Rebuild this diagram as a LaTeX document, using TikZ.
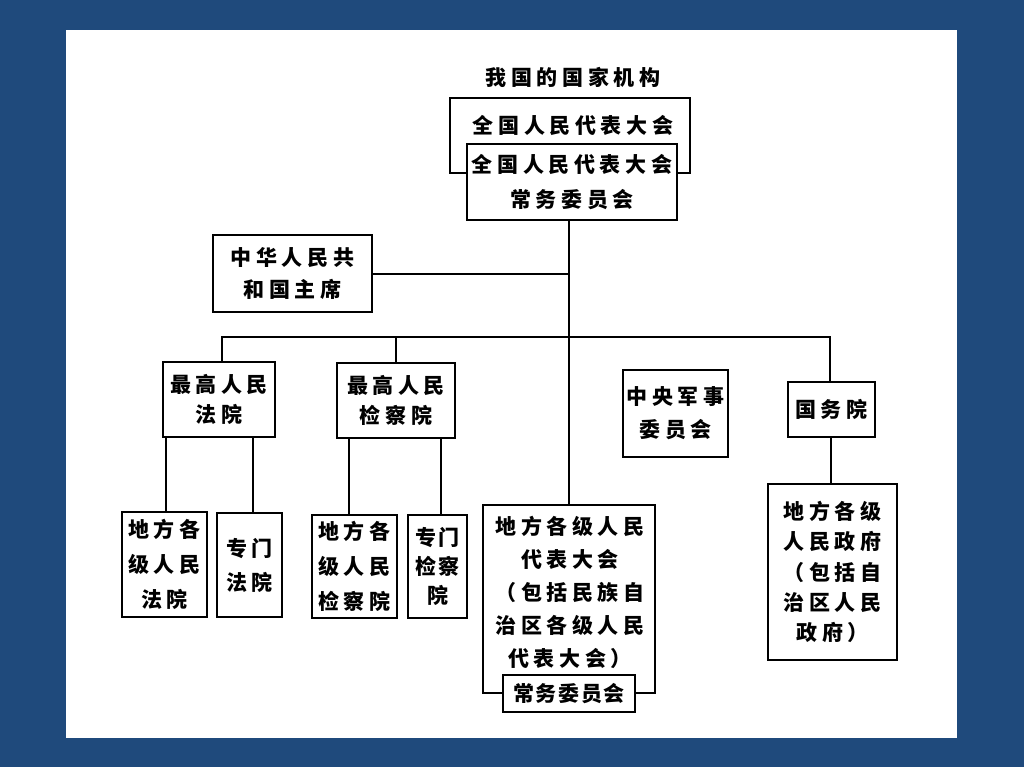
\documentclass[tikz,border=0pt]{standalone}
\usepackage{fontspec}
\newfontfamily\cjk[LetterSpace=22]{Noto Sans CJK SC}
\definecolor{bgblue}{HTML}{1F4A7C}
\begin{document}
\begin{tikzpicture}[x=1pt,y=-1pt,
  box/.style={draw, line width=2pt, inner sep=0pt, align=center, fill=white,
    font={\cjk\bfseries\fontsize{21}{33}\selectfont}},
  txt/.style={inner sep=0pt, align=center, font={\cjk\bfseries\fontsize{21}{33}\selectfont}},
  link/.style={line width=2pt}]
\useasboundingbox (0,0) rectangle (1024,767);
\fill[bgblue] (0,0) rectangle (1024,767);
\fill[white] (66,30) rectangle (957,738);

% title
\node[txt] (title) at (573,77) {我国的国家机构};

% NPC and standing committee
\node[box, minimum width=240, minimum height=75] (npc) at (570,135.5) {};
\node[txt] (npct) at (573,125) {全国人民代表大会};
\node[box, minimum width=210, minimum height=76,
  font={\cjk\bfseries\fontsize{21}{35}\selectfont}] (npcsc) at (572,182) {全国人民代表大会\\常务委员会};

% president
\node[box, minimum width=159, minimum height=77,
  font={\cjk\bfseries\fontsize{21}{32}\selectfont}] (pres) at (292.5,273.5) {中华人民共\\和国主席};

% second row
\node[box, minimum width=112, minimum height=75,
  font={\cjk\bfseries\fontsize{21}{30}\selectfont}] (spc) at (219,399.5) {最高人民\\法院};
\node[box, minimum width=118, minimum height=75,
  font={\cjk\bfseries\fontsize{21}{30}\selectfont}] (spp) at (396,400.5) {最高人民\\检察院};
\node[box, minimum width=105, minimum height=87] (cmc) at (675.5,413.5) {中央军事\\委员会};
\node[box, minimum width=87, minimum height=55] (sc) at (831.5,409.5) {国务院};

% third row
\node[box, minimum width=85, minimum height=105,
  font={\cjk\bfseries\fontsize{21}{35}\selectfont}] (lc) at (164.5,564.5) {地方各\\级人民\\法院};
\node[box, minimum width=65, minimum height=104,
  font={\cjk\bfseries\fontsize{21}{34}\selectfont}] (sct) at (249.5,565) {专门\\法院};
\node[box, minimum width=85, minimum height=103,
  font={\cjk\bfseries\fontsize{21}{35}\selectfont}] (lp) at (354.5,566.5) {地方各\\级人民\\检察院};
\node[box, minimum width=59, minimum height=103,
  font={\cjk\bfseries\fontsize{21}{29}\selectfont\addfontfeature{LetterSpace=12}}] (spt) at (437.5,566.5) {专门\\检察\\院};

% local people's congresses
\node[box, minimum width=172, minimum height=188] (lpc) at (569,599) {};
\node[txt] (lpct) at (570,592.5) {地方各级人民\\代表大会\\（包括民族自\\治区各级人民\\代表大会）};
\node[box, minimum width=132, minimum height=37,
  font={\cjk\bfseries\fontsize{21}{33}\selectfont\addfontfeature{LetterSpace=8}}] (lpcsc) at (569,693.5) {常务委员会};

% local governments
\node[box, minimum width=129, minimum height=176,
  font={\cjk\bfseries\fontsize{21}{30.3}\selectfont}] (lg) at (832.5,572) {地方各级\\人民政府\\（包括自\\治区人民\\政府）};

% connectors
\coordinate (bus) at (0,337);
\draw[link] (lpc.north |- npcsc.south) -- (lpc.north);
\draw[link] (pres.east) -- (pres.east -| lpc.north);
\draw[link] ([xshift=3]spc.north) -- ([xshift=3]spc.north |- bus) -- ([xshift=-2]sc.north |- bus) -- ([xshift=-2]sc.north);
\draw[link] (spp.north) -- (spp.north |- bus);
\draw[link] ([xshift=1.5]lc.north) -- ([xshift=1.5]lc.north |- spc.south);
\draw[link] ([xshift=3.5]sct.north) -- ([xshift=3.5]sct.north |- spc.south);
\draw[link] ([xshift=-6]lp.north) -- ([xshift=-6]lp.north |- spp.south);
\draw[link] ([xshift=3.5]spt.north) -- ([xshift=3.5]spt.north |- spp.south);
\draw[link] ([xshift=-1.5]lg.north |- sc.south) -- ([xshift=-1.5]lg.north);
\end{tikzpicture}
\end{document}
